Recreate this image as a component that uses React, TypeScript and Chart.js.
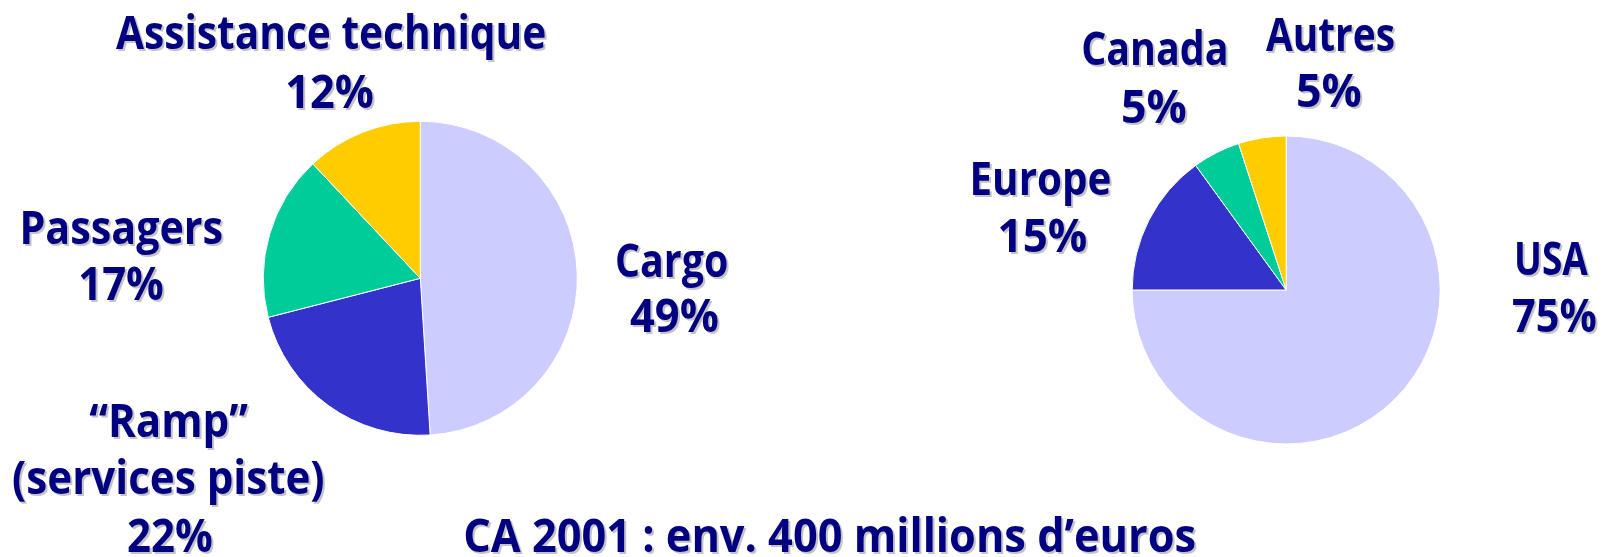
import React, { useEffect, useRef } from "react";
import { Chart, registerables } from "chart.js";

Chart.register(...registerables);

// ---- Data ----
const activityLabels = ["Cargo", "“Ramp”\n(services piste)", "Passagers", "Assistance technique"];
const activityValues = [49, 22, 17, 12];

const regionLabels = ["USA", "Europe", "Canada", "Autres"];
const regionValues = [75, 15, 5, 5];

const sliceColors = ["#CCCCFF", "#3333CC", "#00CC99", "#FFCC00"];
const captionText = "CA 2001 : env. 400 millions d’euros";

// ---- Layout (page pixels): [centerX, baseline, inkWidth] per text line ----
const activityLabelPos: number[][][] = [
  [[671.7, 276.7, 110], [674, 331.7, 88]],
  [[168.7, 436.7, 159], [168, 494, 310], [170, 551.7, 84]],
  [[122.5, 244, 199], [121.5, 300, 83]],
  [[330.5, 49.3, 429], [330, 108.3, 86]],
];
const regionLabelPos: number[][][] = [
  [[1552.5, 275, 72], [1554.5, 331.7, 83]],
  [[1041.5, 195, 137], [1043, 251.7, 87]],
  [[1154.4, 65, 143], [1154.4, 123.3, 63]],
  [[1330, 50.7, 128], [1329.5, 107.3, 63]],
];
const captionPos = [830, 552, 730];

const W = 1602;
const H = 557;
const CAP_HEIGHT = 33.5;
const NAVY = "#000080";
const SHADOW = "#C4C4C4";
const FONT_FAMILY = '"Open Sans", "DejaVu Sans", sans-serif';

function fontSizeFor(ctx: CanvasRenderingContext2D) {
  ctx.font = `bold 100px ${FONT_FAMILY}`;
  const m = ctx.measureText("H");
  const asc = m.actualBoundingBoxAscent || 71.4;
  return (100 * CAP_HEIGHT) / asc;
}

function drawFitted(ctx: CanvasRenderingContext2D, text: string, pos: number[]) {
  const [cx, by, w] = pos;
  ctx.save();
  const size = fontSizeFor(ctx);
  ctx.font = `bold ${size}px ${FONT_FAMILY}`;
  ctx.textAlign = "left";
  ctx.textBaseline = "alphabetic";
  const m = ctx.measureText(text);
  const bl = m.actualBoundingBoxLeft;
  const ink = bl + m.actualBoundingBoxRight;
  const sx = w / ink;
  ctx.translate(cx - w / 2, by);
  ctx.scale(sx, 1);
  ctx.fillStyle = SHADOW;
  ctx.fillText(text, bl + 2 / sx, 2);
  ctx.fillStyle = NAVY;
  ctx.fillText(text, bl, 0);
  ctx.restore();
}

function makeLabelPlugin(layout: number[][][], caption?: { text: string; pos: number[] }) {
  return {
    id: "sliceLabels",
    afterDraw(chart: any) {
      const ctx = chart.ctx as CanvasRenderingContext2D;
      const ds = chart.data.datasets[0];
      (chart.data.labels as string[]).forEach((lab, i) => {
        const lines = [...String(lab).split("\n"), `${ds.data[i]}%`];
        lines.forEach((t, j) => drawFitted(ctx, t, layout[i][j]));
      });
      if (caption) drawFitted(ctx, caption.text, caption.pos);
    },
  };
}

function makePie(
  canvas: HTMLCanvasElement,
  labels: string[],
  values: number[],
  cx: number,
  cy: number,
  r: number,
  layout: number[][][],
  caption?: { text: string; pos: number[] }
) {
  const half = r + 12;
  return new Chart(canvas, {
    type: "pie",
    data: {
      labels,
      datasets: [
        {
          data: values,
          backgroundColor: sliceColors,
          borderColor: "#FFFFFF",
          borderWidth: 1,
          radius: r,
        } as any,
      ],
    },
    options: {
      responsive: false,
      maintainAspectRatio: false,
      animation: false,
      events: [],
      layout: {
        padding: {
          left: cx - half,
          right: W - (cx + half),
          top: cy - half,
          bottom: H - (cy + half),
        },
      },
      plugins: {
        legend: { display: false },
        tooltip: { enabled: false },
      },
    },
    plugins: [makeLabelPlugin(layout, caption)],
  });
}

export default function App() {
  const leftRef = useRef<HTMLCanvasElement>(null);
  const rightRef = useRef<HTMLCanvasElement>(null);

  useEffect(() => {
    const left = makePie(leftRef.current!, activityLabels, activityValues, 420.3, 278.3, 157, activityLabelPos);
    const right = makePie(rightRef.current!, regionLabels, regionValues, 1286.2, 290, 154, regionLabelPos, {
      text: captionText,
      pos: captionPos,
    });
    return () => {
      left.destroy();
      right.destroy();
    };
  }, []);

  const canvasStyle: React.CSSProperties = { position: "absolute", left: 0, top: 0, width: W, height: H };

  return (
    <div style={{ position: "fixed", left: 0, top: 0, width: W, height: H, background: "#FFFFFF" }}>
      <canvas ref={leftRef} width={W} height={H} style={canvasStyle} />
      <canvas ref={rightRef} width={W} height={H} style={canvasStyle} />
    </div>
  );
}
